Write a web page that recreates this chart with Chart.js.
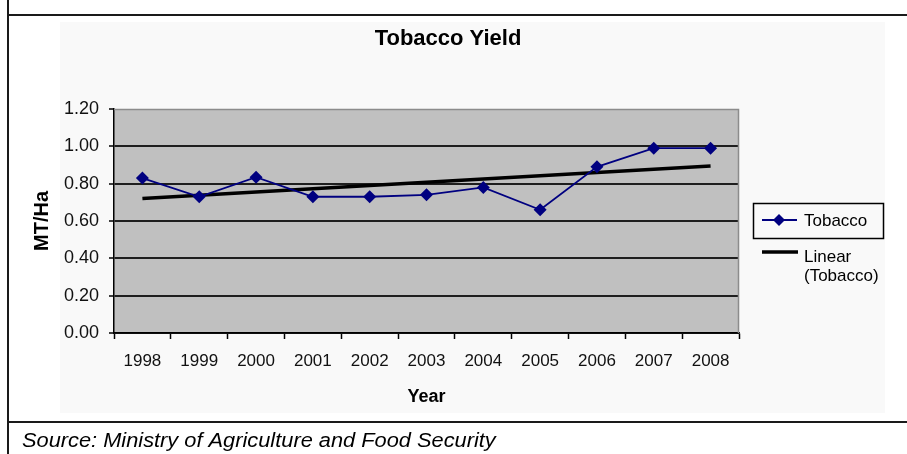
<!DOCTYPE html>
<html>
<head>
<meta charset="utf-8">
<title>Tobacco Yield</title>
<script src="https://cdn.jsdelivr.net/npm/chart.js@4.4.1/dist/chart.umd.min.js"></script>
<style>
  html, body { margin: 0; padding: 0; background: #ffffff; }
  #wrap { width: 907px; height: 454px; }
</style>
</head>
<body>
<div id="wrap"><canvas id="yieldChart" width="907" height="454"></canvas></div>
<script>
// Yield of tobacco, metric tonnes per hectare
const years = ['1998', '1999', '2000', '2001', '2002', '2003', '2004', '2005', '2006', '2007', '2008'];
const tobaccoYield = [0.83, 0.73, 0.835, 0.73, 0.73, 0.74, 0.78, 0.66, 0.89, 0.99, 0.99];
// Linear trend line values at the first and last year
const trendEnds = [0.72, 0.895];
const yAxisRange = [0, 1.2, 0.2]; // min, max, step

const FONT = '"Liberation Sans", Arial, Helvetica, sans-serif';
const NAVY = '#000080';

const trendData = years.map((_, i) =>
  i === 0 ? trendEnds[0] : (i === years.length - 1 ? trendEnds[1] : null));

// Page frame, panel, plot background, headings and the source note
const framePlugin = {
  id: 'frame',
  beforeDraw(chart) {
    const ctx = chart.ctx;
    const a = chart.chartArea;
    ctx.save();
    ctx.fillStyle = '#ffffff';
    ctx.fillRect(0, 0, chart.width, chart.height);
    // chart panel
    ctx.fillStyle = '#f9f9f9';
    ctx.fillRect(60, 22, 825, 391);
    // table rules
    ctx.strokeStyle = '#1a1a1a';
    ctx.lineWidth = 2;
    ctx.beginPath();
    ctx.moveTo(8, 0); ctx.lineTo(8, chart.height);
    ctx.moveTo(8, 15); ctx.lineTo(chart.width, 15);
    ctx.moveTo(8, 422); ctx.lineTo(chart.width, 422);
    ctx.stroke();
    // plot background
    ctx.fillStyle = '#c0c0c0';
    ctx.fillRect(a.left, a.top, a.right - a.left, a.bottom - a.top);
    // chart title
    ctx.fillStyle = '#000000';
    ctx.font = 'bold 22px ' + FONT;
    ctx.textAlign = 'center';
    ctx.textBaseline = 'alphabetic';
    ctx.fillText('Tobacco Yield', 448, 45);
    // source note, set slightly wide
    ctx.font = 'italic 20px ' + FONT;
    ctx.textAlign = 'left';
    ctx.translate(22, 447);
    ctx.scale(1.09, 1);
    ctx.fillText('Source: Ministry of Agriculture and Food Security', 0, 0);
    ctx.restore();
  },
  beforeDatasetsDraw(chart) {
    const ctx = chart.ctx;
    const a = chart.chartArea;
    ctx.save();
    ctx.strokeStyle = '#8c8c8c';
    ctx.lineWidth = 1.5;
    ctx.beginPath();
    ctx.moveTo(a.left, a.top + 0.5);
    ctx.lineTo(a.right - 0.5, a.top + 0.5);
    ctx.lineTo(a.right - 0.5, a.bottom);
    ctx.stroke();
    ctx.restore();
  }
};

// Legend box on the right, styled from the datasets
const legendPlugin = {
  id: 'sideLegend',
  afterDraw(chart) {
    const ctx = chart.ctx;
    const ds = chart.data.datasets;
    ctx.save();
    ctx.strokeStyle = '#000000';
    ctx.lineWidth = 1.5;
    ctx.strokeRect(753.5, 203.5, 130, 35);

    // series sample
    ctx.strokeStyle = ds[0].borderColor;
    ctx.lineWidth = ds[0].borderWidth;
    ctx.beginPath();
    ctx.moveTo(762, 220); ctx.lineTo(797, 220);
    ctx.stroke();
    ctx.fillStyle = ds[0].pointBackgroundColor;
    ctx.beginPath();
    ctx.moveTo(779, 214); ctx.lineTo(785, 220); ctx.lineTo(779, 226); ctx.lineTo(773, 220);
    ctx.closePath();
    ctx.fill();

    ctx.fillStyle = '#000000';
    ctx.font = '17px ' + FONT;
    ctx.textAlign = 'left';
    ctx.textBaseline = 'middle';
    ctx.fillText(ds[0].label, 804, 221);

    // trend sample
    ctx.strokeStyle = ds[1].borderColor;
    ctx.lineWidth = ds[1].borderWidth;
    ctx.beginPath();
    ctx.moveTo(762, 252); ctx.lineTo(798, 252);
    ctx.stroke();
    const trendLines = ds[1].label.split('\n');
    trendLines.forEach((t, i) => ctx.fillText(t, 804, 257 + i * 19));
    ctx.restore();
  }
};

new Chart(document.getElementById('yieldChart'), {
  type: 'line',
  data: {
    labels: years,
    datasets: [
      {
        label: 'Tobacco',
        data: tobaccoYield,
        borderColor: NAVY,
        borderWidth: 1.8,
        pointStyle: 'rectRot',
        pointRadius: 6.5,
        pointBackgroundColor: NAVY,
        pointBorderColor: NAVY,
        pointBorderWidth: 0,
        tension: 0,
        order: 1
      },
      {
        label: 'Linear\n(Tobacco)',
        data: trendData,
        spanGaps: true,
        borderColor: '#000000',
        borderWidth: 3.5,
        pointRadius: 0,
        tension: 0,
        order: 2
      }
    ]
  },
  options: {
    responsive: false,
    animation: false,
    devicePixelRatio: 1,
    layout: { padding: { left: 30, right: 168, top: 109, bottom: 46 } },
    plugins: {
      legend: { display: false },
      title: { display: false },
      tooltip: { enabled: false }
    },
    scales: {
      x: {
        offset: true,
        afterFit(scale) { scale.height = 75; },
        grid: {
          offset: true,
          drawOnChartArea: false,
          tickLength: 6,
          tickColor: '#000000',
          tickWidth: 1.5
        },
        border: { display: true, color: '#000000', width: 1.5 },
        ticks: {
          color: '#111111',
          padding: 12,
          maxRotation: 0,
          autoSkip: false,
          font: { family: FONT, size: 17 }
        },
        title: {
          display: true,
          text: 'Year',
          color: '#000000',
          padding: 0,
          font: { family: FONT, size: 18, weight: 'bold' }
        }
      },
      y: {
        min: yAxisRange[0],
        max: yAxisRange[1],
        afterFit(scale) { scale.width = 84; },
        grid: {
          color(c) { return (c.tick && Math.abs(c.tick.value - yAxisRange[1]) < 1e-6) ? 'rgba(0,0,0,0)' : '#1e1e1e'; },
          lineWidth: 2,
          tickLength: 5,
          tickColor: '#000000',
          tickWidth: 1.5
        },
        border: { display: true, color: '#000000', width: 1.5 },
        ticks: {
          stepSize: yAxisRange[2],
          color: '#111111',
          padding: 10,
          font: { family: FONT, size: 18 },
          callback: (v) => Number(v).toFixed(2)
        },
        title: {
          display: true,
          text: 'MT/Ha',
          color: '#000000',
          padding: 0,
          font: { family: FONT, size: 20, weight: 'bold' }
        }
      }
    }
  },
  plugins: [framePlugin, legendPlugin]
});
</script>
</body>
</html>
